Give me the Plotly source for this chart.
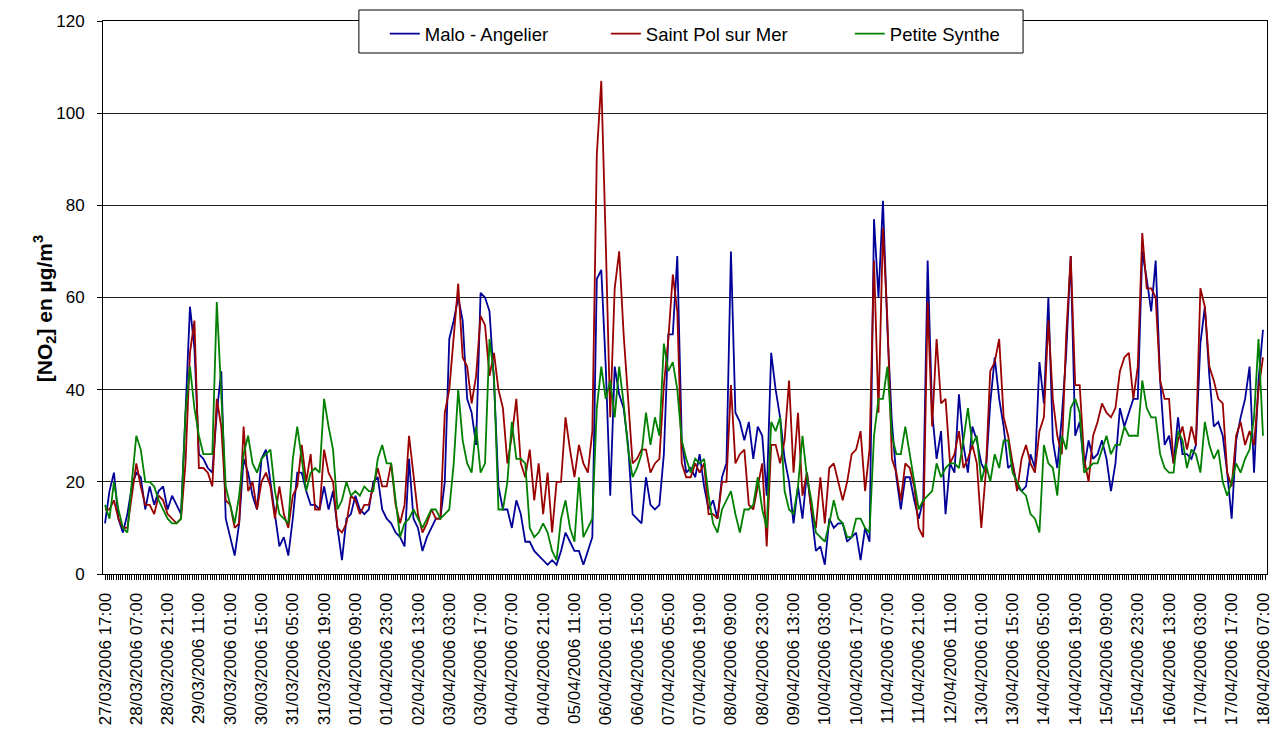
import pandas as pd
import plotly.graph_objects as go

# NO2 concentrations (µg/m3), one value every 2 hours from 27/03/2006 17:00
malo_angelier = [
    11, 18, 22, 12, 9, 13, 19, 22, 21, 14, 19, 15, 18, 19, 14, 17, 15, 13, 35, 58,
    49, 26, 25, 23, 22, 35, 44, 12, 8, 4, 11, 25, 22, 17, 14, 25, 27, 20, 13, 6,
    8, 4, 12, 22, 22, 18, 15, 15, 14, 19, 14, 18, 10, 3, 12, 13, 17, 14, 13, 14,
    20, 21, 14, 12, 11, 9, 8, 6, 25, 12, 10, 5, 8, 10, 12, 12, 20, 51, 55, 60,
    55, 38, 35, 28, 61, 60, 57, 42, 19, 14, 14, 10, 16, 13, 7, 7, 5, 4, 3, 2,
    3, 2, 5, 9, 7, 5, 5, 2, 5, 8, 64, 66, 45, 17, 45, 39, 36, 28, 13, 12,
    11, 21, 15, 14, 15, 26, 52, 52, 69, 29, 22, 23, 21, 26, 19, 14, 16, 12, 21, 24,
    70, 35, 33, 29, 33, 25, 32, 30, 17, 48, 40, 34, 25, 20, 11, 19, 12, 22, 14, 5,
    6, 2, 12, 10, 11, 11, 7, 8, 9, 3, 10, 7, 77, 60, 81, 53, 33, 21, 14, 21,
    21, 16, 12, 16, 68, 35, 25, 31, 13, 24, 22, 39, 28, 22, 32, 29, 24, 22, 37, 47,
    38, 32, 23, 24, 19, 18, 19, 26, 23, 46, 37, 60, 29, 23, 34, 48, 69, 30, 33, 23,
    29, 25, 26, 29, 25, 18, 24, 36, 32, 35, 38, 38, 70, 64, 57, 68, 42, 28, 30, 24,
    34, 26, 26, 25, 28, 50, 58, 43, 32, 33, 30, 22, 12, 29, 34, 38, 45, 22, 42, 53,
]
saint_pol_sur_mer = [
    14, 14, 16, 12, 10, 10, 17, 24, 19, 15, 15, 13, 17, 16, 13, 12, 11, 12, 24, 48,
    55, 23, 23, 22, 19, 38, 32, 16, 15, 10, 11, 32, 18, 20, 14, 20, 22, 19, 12, 19,
    13, 10, 17, 19, 28, 20, 26, 14, 14, 27, 22, 20, 10, 9, 11, 17, 16, 13, 15, 15,
    19, 23, 19, 19, 24, 15, 11, 15, 30, 22, 13, 9, 11, 14, 12, 12, 35, 40, 52, 63,
    47, 45, 37, 43, 56, 54, 43, 48, 40, 36, 24, 30, 38, 24, 21, 27, 16, 24, 13, 22,
    9, 20, 20, 34, 27, 21, 28, 24, 22, 31, 91, 107, 72, 34, 62, 70, 52, 38, 24, 25,
    27, 27, 22, 24, 25, 41, 51, 65, 57, 24, 21, 21, 24, 22, 24, 13, 13, 12, 20, 20,
    41, 24, 26, 27, 15, 14, 19, 24, 6, 28, 28, 24, 29, 42, 22, 35, 17, 22, 14, 10,
    21, 11, 23, 24, 20, 16, 20, 26, 27, 31, 18, 27, 68, 35, 75, 55, 25, 22, 16, 24,
    23, 19, 10, 8, 59, 32, 51, 37, 38, 24, 26, 31, 23, 25, 28, 24, 10, 22, 44, 46,
    51, 34, 30, 24, 18, 25, 28, 24, 22, 31, 34, 55, 38, 30, 26, 52, 69, 41, 41, 25,
    20, 30, 33, 37, 35, 34, 36, 44, 47, 48, 38, 45, 74, 62, 62, 60, 42, 38, 38, 24,
    29, 32, 27, 32, 28, 62, 58, 45, 42, 38, 37, 22, 19, 30, 33, 28, 31, 28, 40, 47,
]
petite_synthe = [
    15, 12, 20, 14, 10, 9, 20, 30, 27, 20, 20, 19, 16, 14, 12, 11, 11, 12, 35, 45,
    36, 30, 26, 26, 26, 59, 38, 19, 15, 11, 17, 26, 30, 24, 22, 25, 26, 27, 18, 13,
    12, 11, 25, 32, 25, 18, 22, 23, 22, 38, 32, 27, 14, 16, 20, 17, 18, 17, 19, 18,
    18, 25, 28, 24, 24, 16, 8, 11, 12, 14, 12, 10, 12, 14, 14, 12, 13, 14, 24, 40,
    29, 24, 22, 32, 22, 24, 51, 43, 14, 14, 20, 33, 25, 25, 24, 10, 8, 9, 11, 9,
    5, 3, 12, 16, 10, 7, 21, 8, 10, 12, 36, 45, 38, 42, 34, 45, 37, 27, 21, 23,
    26, 35, 28, 34, 30, 50, 44, 46, 40, 29, 25, 22, 25, 24, 25, 17, 11, 9, 14, 16,
    18, 13, 9, 14, 14, 15, 21, 14, 10, 33, 31, 34, 18, 14, 13, 19, 30, 21, 16, 9,
    8, 7, 11, 16, 12, 11, 8, 8, 12, 12, 10, 9, 30, 38, 38, 45, 30, 26, 26, 32,
    26, 20, 14, 16, 17, 18, 24, 21, 23, 24, 24, 23, 29, 36, 28, 30, 20, 24, 20, 26,
    23, 29, 29, 22, 20, 18, 17, 13, 12, 9, 28, 24, 23, 17, 30, 27, 36, 38, 35, 22,
    23, 24, 24, 27, 30, 26, 28, 28, 32, 30, 30, 30, 42, 36, 34, 34, 26, 23, 22, 22,
    31, 29, 23, 27, 26, 22, 33, 28, 25, 27, 20, 17, 20, 24, 22, 25, 27, 34, 51, 30,
]

start = pd.Timestamp("2006-03-27 17:00")
timestamps = pd.date_range(start, periods=len(malo_angelier), freq="2h")

# category labels every 14 hours
tick_dates = pd.date_range(start, pd.Timestamp("2006-04-18 07:00"), freq="14h")
tick_labels = [d.strftime("%d/%m/%Y %H:%M") for d in tick_dates]

series = [
    ("Malo - Angelier", malo_angelier, "#000099"),
    ("Saint Pol sur Mer", saint_pol_sur_mer, "#990000"),
    ("Petite Synthe", petite_synthe, "#008000"),
]

# plot-area geometry in pixels, used to place the legend entries and title
L, R, T, B = 103, 1272, 21, 574
PW, PH = R - L, B - T


def px_x(x):
    return (x - L) / PW


def px_y(y):
    return (B - y) / PH


legend_ids = ["legend", "legend2", "legend3"]
legend_text_x = [428, 650, 895]

fig = go.Figure()
for (name, values, color), lid in zip(series, legend_ids):
    fig.add_trace(go.Scatter(
        x=timestamps, y=values, name=name, mode="lines",
        line=dict(color=color, width=1.8), legend=lid,
    ))

font_family = "Liberation Sans, Arial, sans-serif"
hour = pd.Timedelta(hours=1)

legend_layout = {}
for lid, tx in zip(legend_ids, legend_text_x):
    legend_layout[lid] = dict(
        orientation="h", x=px_x(tx - 42), y=px_y(15), xanchor="left", yanchor="top",
        bgcolor="rgba(0,0,0,0)", borderwidth=0, font=dict(size=18.5),
    )

fig.update_layout(
    width=1274, height=731,
    margin=dict(l=L, r=1274 - R, t=T, b=731 - B),
    paper_bgcolor="white", plot_bgcolor="white",
    font=dict(family=font_family, size=17, color="black"),
    showlegend=True,
    **legend_layout,
    shapes=[dict(
        type="rect", xref="paper", yref="paper",
        x0=px_x(360), x1=px_x(1027), y0=px_y(53), y1=px_y(10),
        fillcolor="white", line=dict(color="black", width=1), layer="above",
    )],
    annotations=[dict(
        text="<b>[NO<sub>2</sub>] en µg/m<sup>3</sup></b>",
        xref="paper", yref="paper", x=px_x(45), y=px_y(309),
        xanchor="center", yanchor="middle", textangle=-90,
        showarrow=False, font=dict(size=21),
    )],
    xaxis=dict(
        type="date",
        range=[start - 0.9 * hour, start + 519.8 * hour],
        tickvals=tick_dates, ticktext=tick_labels, tickangle=-90,
        ticks="outside", ticklen=5, tickcolor="black",
        showline=True, linecolor="black", linewidth=1, mirror=True,
        showgrid=False, zeroline=False,
        minor=dict(dtick=3600000, tick0=start, ticks="outside", ticklen=5,
                   tickcolor="black", showgrid=False),
        ticklabelstandoff=6, ticklabeloverflow="allow",
        tickfont=dict(size=17),
    ),
    yaxis=dict(
        range=[0, 120], dtick=20, tick0=0,
        ticks="outside", ticklen=5, tickcolor="black",
        showline=True, linecolor="black", linewidth=1, mirror=True,
        showgrid=True, gridcolor="#222222", gridwidth=1, zeroline=False,
        tickfont=dict(size=17), ticklabelstandoff=9,
    ),
)

fig.write_html("out.html")
